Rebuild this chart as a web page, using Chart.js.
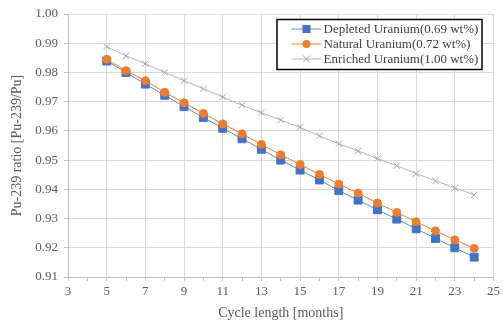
<!DOCTYPE html>
<html>
<head>
<meta charset="utf-8">
<script src="https://cdn.jsdelivr.net/npm/chart.js@4"></script>
<style>
  html, body { margin: 0; padding: 0; background: #fff; }
  #wrap { width: 503px; height: 322px; }
</style>
</head>
<body>
<div id="wrap"><canvas id="chart"></canvas></div>
<script>
const cycleMonths = [5, 6, 7, 8, 9, 10, 11, 12, 13, 14, 15, 16, 17, 18, 19, 20, 21, 22, 23, 24];
const depleted = [0.9839, 0.9800, 0.9760, 0.9722, 0.9683, 0.9646, 0.9609, 0.9573, 0.9537, 0.9500,
  0.9466, 0.9432, 0.9396, 0.9363, 0.9330, 0.9298, 0.9265, 0.9232, 0.9200, 0.9168];
const natural = [0.9845, 0.9806, 0.9772, 0.9732, 0.9696, 0.9660, 0.9624, 0.9590, 0.9554, 0.9518,
  0.9485, 0.9451, 0.9418, 0.9387, 0.9353, 0.9321, 0.9289, 0.9258, 0.9227, 0.9198];
const enriched = [0.9888, 0.9857, 0.9830, 0.9800, 0.9772, 0.9744, 0.9716, 0.9688, 0.9662, 0.9637,
  0.9612, 0.9583, 0.9556, 0.9531, 0.9505, 0.9481, 0.9454, 0.9429, 0.9405, 0.9381];
const seriesNames = ["Depleted Uranium(0.69 wt%)", "Natural Uranium(0.72 wt%)", "Enriched Uranium(1.00 wt%)"];

const toPoints = (vals) => vals.map((v, i) => ({ x: cycleMonths[i], y: v }));
const font = "Liberation Serif";

// legend box inside the plot, top right
const boxLegend = {
  id: "boxLegend",
  afterDraw(chart) {
    const ctx = chart.ctx;
    const area = chart.chartArea;
    const w = 205, h = 50;
    const left = area.right - 12 - w;
    const top = area.top + 5;
    ctx.save();
    ctx.fillStyle = "#fff";
    ctx.fillRect(left, top, w, h);
    ctx.strokeStyle = "#000";
    ctx.lineWidth = 1.5;
    ctx.strokeRect(left + 0.5, top + 0.5, w, h);
    ctx.font = "13px '" + font + "'";
    ctx.textBaseline = "middle";
    chart.data.datasets.forEach((ds, i) => {
      const y = top + 10 + i * 15;
      const x0 = left + 15, x1 = left + 45, mx = (x0 + x1) / 2;
      ctx.strokeStyle = ds.borderColor;
      ctx.lineWidth = 1;
      ctx.beginPath();
      ctx.moveTo(x0, y);
      ctx.lineTo(x1, y);
      ctx.stroke();
      ctx.fillStyle = ds.pointBackgroundColor;
      ctx.strokeStyle = ds.pointBorderColor;
      if (ds.pointStyle === "rect") {
        ctx.fillRect(mx - 4, y - 4, 8, 8);
      } else if (ds.pointStyle === "circle") {
        ctx.beginPath();
        ctx.arc(mx, y, 4, 0, Math.PI * 2);
        ctx.fill();
      } else {
        ctx.beginPath();
        ctx.moveTo(mx - 3.5, y - 3.5); ctx.lineTo(mx + 3.5, y + 3.5);
        ctx.moveTo(mx + 3.5, y - 3.5); ctx.lineTo(mx - 3.5, y + 3.5);
        ctx.stroke();
      }
      ctx.fillStyle = "#404040";
      ctx.fillText(ds.label, x1 + 2, y + 1);
    });
    ctx.restore();
  },
};

new Chart(document.getElementById("chart"), {
  type: "line",
  data: {
    datasets: [
      {
        label: seriesNames[0],
        data: toPoints(depleted),
        borderColor: "#5B8BD6",
        backgroundColor: "#4472C4",
        pointBackgroundColor: "#4472C4",
        pointBorderColor: "#4472C4",
        pointStyle: "rect",
        pointRadius: 5.6,
        borderWidth: 1,
        order: 2,
      },
      {
        label: seriesNames[1],
        data: toPoints(natural),
        borderColor: "#ED7D31",
        backgroundColor: "#ED7D31",
        pointBackgroundColor: "#ED7D31",
        pointBorderColor: "#ED7D31",
        pointStyle: "circle",
        pointRadius: 4,
        borderWidth: 1,
        order: 1,
      },
      {
        label: seriesNames[2],
        data: toPoints(enriched),
        borderColor: "#B4B4B4",
        backgroundColor: "#A5A5A5",
        pointBackgroundColor: "#A5A5A5",
        pointBorderColor: "#A5A5A5",
        pointStyle: "crossRot",
        pointRadius: 4.5,
        pointBorderWidth: 1,
        borderWidth: 1,
        order: 3,
      },
    ],
  },
  options: {
    responsive: true,
    maintainAspectRatio: false,
    animation: false,
    layout: { padding: { top: 14, right: 5, left: 0, bottom: 0 } },
    plugins: {
      legend: { display: false },
      tooltip: { enabled: false },
    },
    scales: {
      x: {
        type: "linear",
        min: 3,
        max: 25,
        afterFit: (scale) => { scale.height = 45; },
        ticks: {
          stepSize: 1,
          autoSkip: false,
          maxRotation: 0,
          padding: 3,
          color: "#595959",
          font: { family: font, size: 13 },
          callback: (v) => (v % 2 === 1 ? v : ""),
        },
        grid: {
          color: (c) => (c.tick && c.tick.value % 2 === 1 ? "#d9d9d9" : "rgba(0,0,0,0)"),
          tickColor: "#bfbfbf",
          tickLength: 4,
          lineWidth: 1,
        },
        border: { color: "#bfbfbf" },
        title: {
          display: true,
          text: "Cycle length [months]",
          color: "#595959",
          font: { family: font, size: 14 },
          padding: { top: 0, bottom: 0 },
        },
      },
      y: {
        min: 0.91,
        max: 1.0,
        afterFit: (scale) => { scale.width = 68; },
        ticks: {
          stepSize: 0.01,
          padding: 6,
          color: "#595959",
          font: { family: font, size: 13 },
          callback: (v) => v.toFixed(2),
        },
        grid: { color: "#d9d9d9", tickColor: "#bfbfbf", tickLength: 4 },
        border: { color: "#bfbfbf" },
        title: {
          display: true,
          text: "Pu-239 ratio [Pu-239/Pu]",
          color: "#595959",
          font: { family: font, size: 14 },
          padding: { top: 9, bottom: 0 },
        },
      },
    },
  },
  plugins: [boxLegend],
});
</script>
</body>
</html>
